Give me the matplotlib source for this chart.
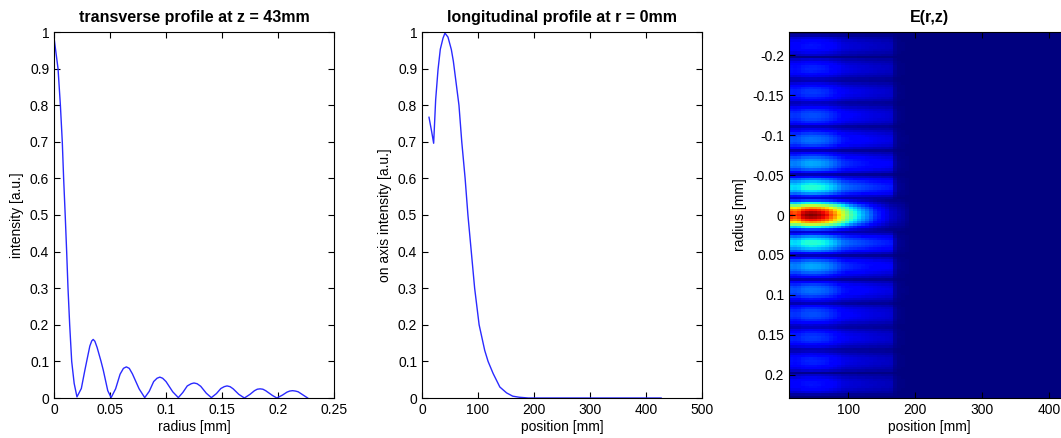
import numpy as np
import matplotlib.pyplot as plt

plt.rcParams['font.family'] = ['Liberation Sans', 'DejaVu Sans']

# transverse profile at z = 43mm
radius_mm = [0.0, 0.0036, 0.0057, 0.0074, 0.0086, 0.0100, 0.0113, 0.0125, 0.0140, 0.0158,
             0.0180, 0.0205, 0.0244, 0.0275, 0.0295, 0.0320, 0.0337, 0.0350, 0.0365, 0.0385,
             0.0420, 0.0440, 0.0480, 0.0510, 0.0550, 0.0590, 0.0620, 0.0646, 0.0672, 0.0700,
             0.0760, 0.0810, 0.0850, 0.0890, 0.0920, 0.0945, 0.0970, 0.1000, 0.1060, 0.1110,
             0.1150, 0.1190, 0.1225, 0.1250, 0.1278, 0.1310, 0.1360, 0.1405, 0.1450, 0.1490,
             0.1520, 0.1545, 0.1572, 0.1600, 0.1650, 0.1700, 0.1750, 0.1790, 0.1815, 0.1840,
             0.1865, 0.1890, 0.1950, 0.1990, 0.2040, 0.2080, 0.2105, 0.2130, 0.2155, 0.2180,
             0.2230, 0.2265]
intensity_r = [0.985, 0.90, 0.80, 0.70, 0.60, 0.50, 0.40, 0.30, 0.20, 0.10,
               0.04, 0.003, 0.026, 0.075, 0.105, 0.142, 0.156, 0.160, 0.155, 0.138,
               0.100, 0.076, 0.020, 0.001, 0.025, 0.065, 0.081, 0.085, 0.081, 0.066,
               0.025, 0.001, 0.018, 0.045, 0.054, 0.057, 0.054, 0.045, 0.017, 0.001,
               0.015, 0.033, 0.039, 0.041, 0.039, 0.032, 0.013, 0.001, 0.012, 0.026,
               0.031, 0.033, 0.031, 0.025, 0.010, 0.000, 0.010, 0.020, 0.024, 0.025,
               0.024, 0.020, 0.007, 0.000, 0.008, 0.016, 0.019, 0.020, 0.019, 0.017,
               0.007, 0.000]

# on-axis profile (middle panel)
position_mm = [12.5, 17, 20.8, 24.4, 28.6, 32.7, 37.5, 41, 46.4, 52.4,
               56, 61, 66, 71, 77, 82, 88, 94, 102, 112,
               118, 127, 139, 151, 162, 174, 190, 250, 350, 427]
intensity_z = [0.767, 0.73, 0.696, 0.815, 0.897, 0.953, 0.983, 0.997, 0.986, 0.952,
               0.92, 0.86, 0.80, 0.70, 0.60, 0.50, 0.40, 0.30, 0.20, 0.13,
               0.10, 0.067, 0.03, 0.014, 0.005, 0.002, 0.0, 0.0, 0.0, 0.0]

# brightness of the side rings along z in the E(r,z) map
ring_pos_mm = [11, 60, 100, 140, 165, 171, 430]
ring_level = [0.8, 0.75, 0.55, 0.42, 0.36, 0.0, 0.0]

r_ticks = [0, 0.05, 0.1, 0.15, 0.2, 0.25]
r_labels = ['0', '0.05', '0.1', '0.15', '0.2', '0.25']
i_ticks = [0, 0.1, 0.2, 0.3, 0.4, 0.5, 0.6, 0.7, 0.8, 0.9, 1]
i_labels = ['0', '0.1', '0.2', '0.3', '0.4', '0.5', '0.6', '0.7', '0.8', '0.9', '1']
z_ticks = [0, 100, 200, 300, 400, 500]
map_r_ticks = [-0.2, -0.15, -0.1, -0.05, 0, 0.05, 0.1, 0.15, 0.2]
map_r_labels = ['-0.2', '-0.15', '-0.1', '-0.05', '0', '0.05', '0.1', '0.15', '0.2']

W, H = 1061, 438
fig = plt.figure(figsize=(W / 100, H / 100), dpi=100)


def box(x0, y0, x1, y1):
    return [x0 / W, 1 - y1 / H, (x1 - x0) / W, (y1 - y0) / H]


def matlab_ticks(ax):
    ax.tick_params(direction='in', top=True, right=True, length=4, labelsize=10,
                   width=0.8, colors='black')
    for s in ax.spines.values():
        s.set_linewidth(0.8)


ax1 = fig.add_axes(box(54, 32, 334, 398))
ax1.plot(radius_mm, intensity_r, color='#2a2aff', lw=1.0)
ax1.set_xlim(0, 0.25)
ax1.set_ylim(0, 1)
ax1.set_xticks(r_ticks, r_labels)
ax1.set_yticks(i_ticks, i_labels)
ax1.set_xlabel('radius [mm]', fontsize=10, labelpad=2)
ax1.set_ylabel('intensity [a.u.]', fontsize=10, labelpad=4)
ax1.set_title('transverse profile at z = 43mm', fontsize=11.5, fontweight='bold', pad=7)
matlab_ticks(ax1)

ax2 = fig.add_axes(box(422, 32, 702, 398))
ax2.plot(position_mm, intensity_z, color='#2a2aff', lw=1.0)
ax2.set_xlim(0, 500)
ax2.set_ylim(0, 1)
ax2.set_xticks(z_ticks)
ax2.set_yticks(i_ticks, i_labels)
ax2.set_xlabel('position [mm]', fontsize=10, labelpad=2)
ax2.set_ylabel('on axis intensity [a.u.]', fontsize=10, labelpad=4)
ax2.set_title('longitudinal profile at r = 0mm', fontsize=11.5, fontweight='bold', pad=7)
matlab_ticks(ax2)

# field map: radial amplitude times the z envelope (on-axis for the main lobe,
# ring level for the side rings)
r_max = 0.229
z_grid = np.linspace(11, 430, 70)
r_grid = np.linspace(-r_max, r_max, 153)
amp_r = np.sqrt(np.interp(np.abs(r_grid), radius_mm, intensity_r, right=0.0))
amp_z = np.sqrt(np.interp(z_grid, position_mm, intensity_z))
ring_z = np.interp(z_grid, ring_pos_mm, ring_level)
env = np.where(np.abs(r_grid)[:, None] < 0.0205, amp_z[None, :],
               np.maximum(amp_z, ring_z)[None, :])
field = amp_r[:, None] * env

ax3 = fig.add_axes(box(789, 32, 1069, 398))
ax3.imshow(field, cmap='jet', vmin=0, vmax=field.max(), aspect='auto',
           interpolation='nearest', origin='upper',
           extent=[z_grid[0], z_grid[-1], r_max, -r_max])
ax3.set_xlim(11, 430)
ax3.set_ylim(r_max, -r_max)
ax3.set_xticks([100, 200, 300, 400])
ax3.set_yticks(map_r_ticks, map_r_labels)
ax3.set_xlabel('position [mm]', fontsize=10, labelpad=2)
ax3.set_ylabel('radius [mm]', fontsize=10, labelpad=4)
ax3.set_title('E(r,z)', fontsize=11.5, fontweight='bold', pad=7)
matlab_ticks(ax3)

fig.savefig('out.png', dpi=100)
